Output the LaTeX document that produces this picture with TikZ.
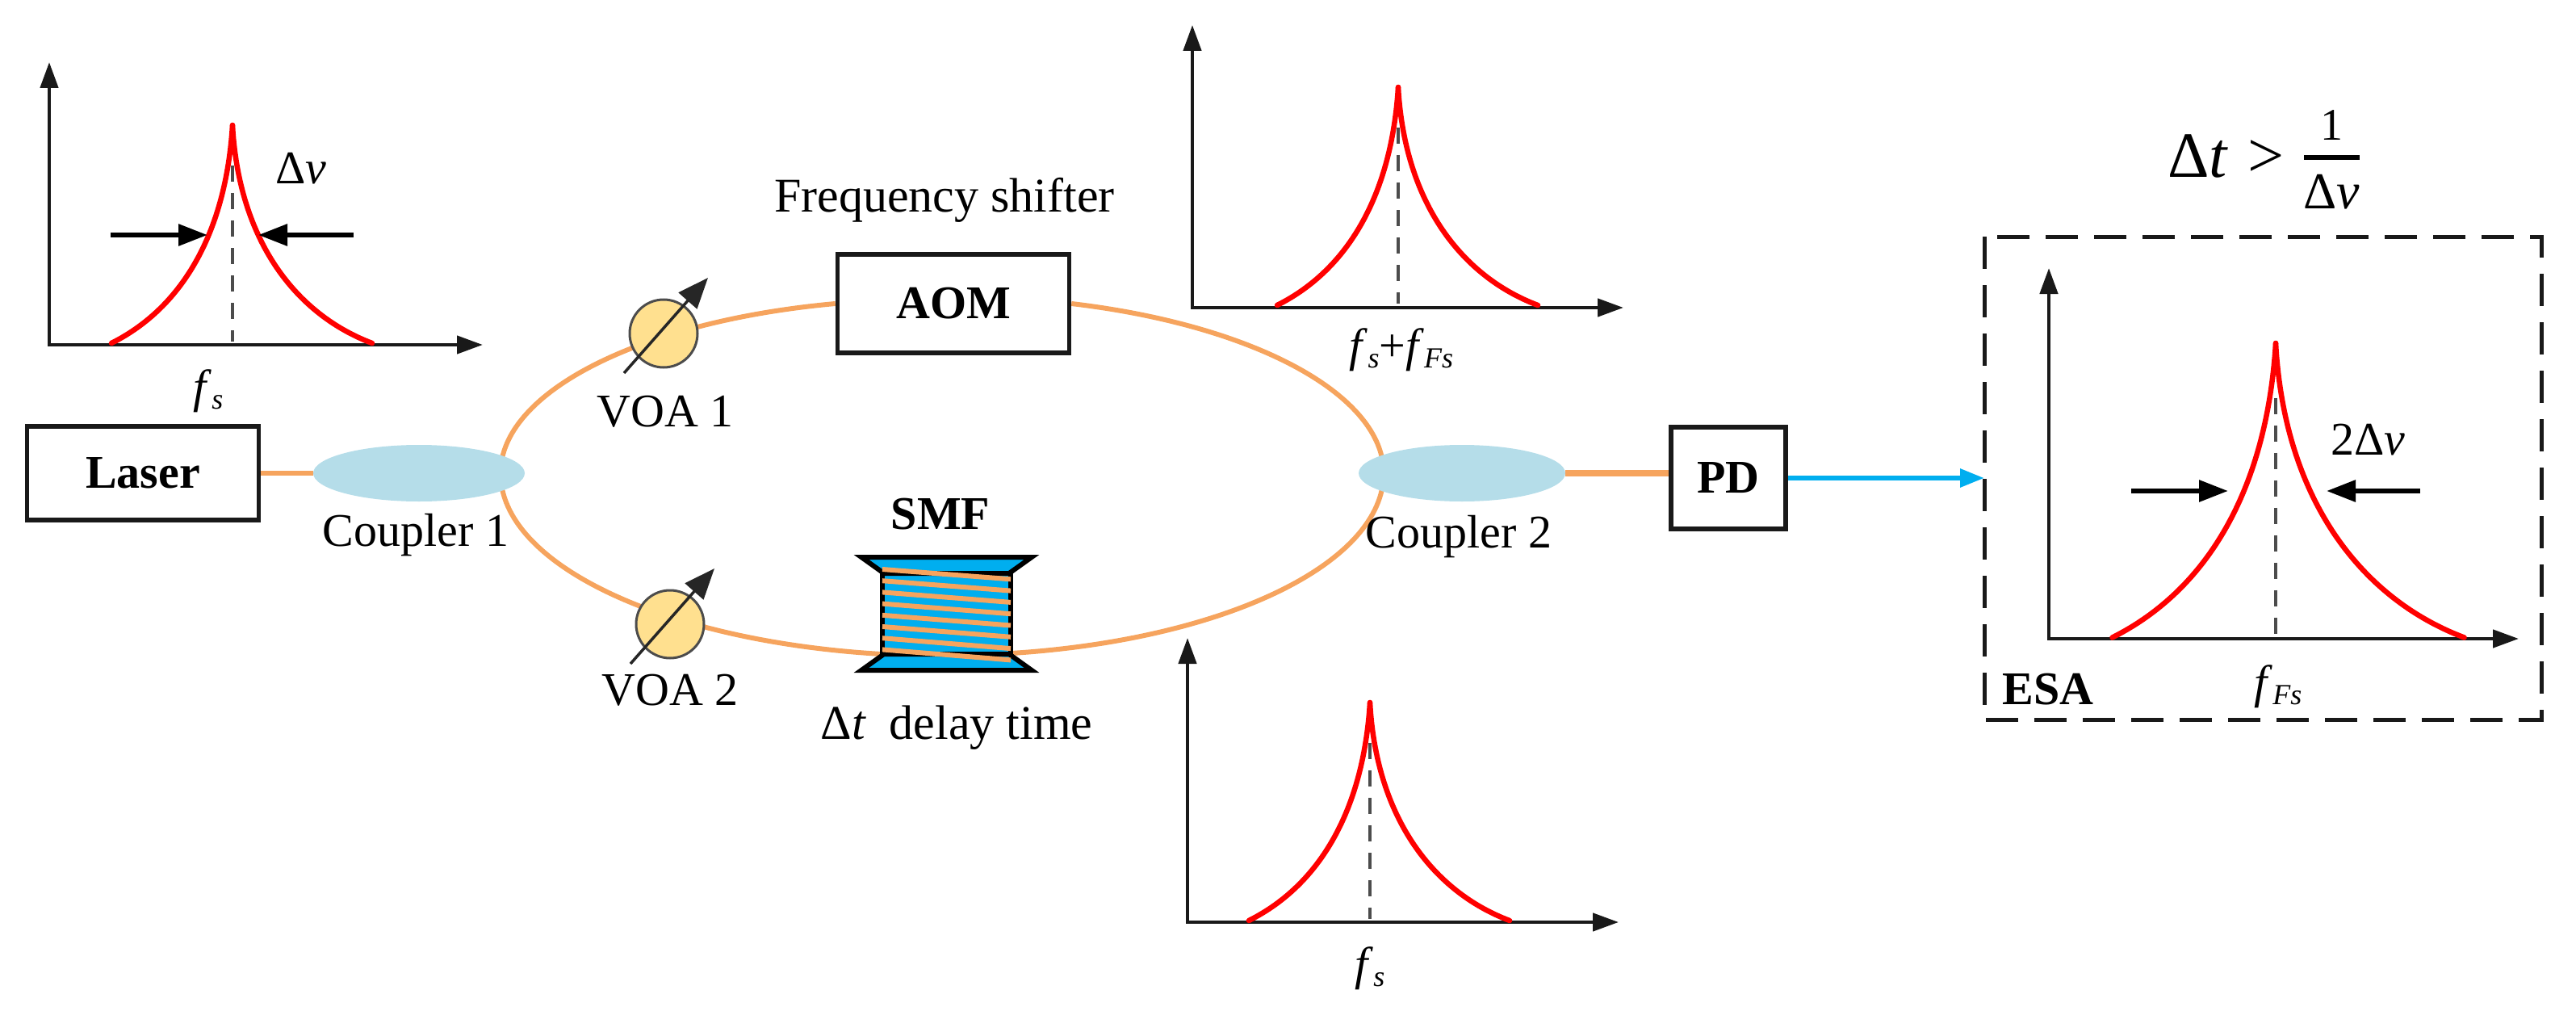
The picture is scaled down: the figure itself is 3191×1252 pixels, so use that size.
\documentclass[tikz,border=0pt]{standalone}
\usepackage{amsmath}
\usepackage{fontspec}
\usepackage{graphicx}
\setmainfont{Liberation Serif}
\usetikzlibrary{arrows.meta,backgrounds,shapes.geometric}
\definecolor{fiber}{HTML}{F6A45E}
\definecolor{spoolblue}{HTML}{00AEEF}
\definecolor{cplr}{HTML}{B5DDE9}
\definecolor{voafill}{HTML}{FFE08F}
\newcommand{\fs}[1]{\textit{f}\raisebox{-8pt}{\fontsize{36}{36}\selectfont\textit{#1}}}
\tikzset{
  x=1pt,y=-1pt,
  txt/.style={font=\fontsize{58}{62}\selectfont,inner sep=0pt,text=black},
  widetxt/.style={txt,font=\fontsize{60}{64}\selectfont},
  boldtxt/.style={txt,font=\fontsize{58}{62}\selectfont\bfseries},
  box/.style={draw=black!90,line width=5.5pt,fill=white,font=\fontsize{58}{62}\selectfont\bfseries,inner sep=0pt},
  coupler/.style={ellipse,fill=cplr,inner sep=0pt,minimum width=262pt,minimum height=70pt},
  voa/.style={circle,draw=black!70,line width=3pt,fill=voafill,minimum size=84pt,inner sep=0pt},
  ring/.style={draw=fiber,line width=6pt},
  axes/.style={draw=black!90,line width=4.5pt,{Triangle[length=32pt,width=22pt]}-{Triangle[length=32pt,width=22pt]}},
  tune/.style={draw=black!85,line width=3.5pt,-{Triangle[length=38pt,width=30pt]}},
  meas/.style={draw=black,line width=6pt,-{Triangle[length=36pt,width=26pt]}},
  center line/.style={draw=black!70,line width=4.5pt,dash pattern=on 20pt off 14pt},
  linecurve/.style={draw=red,line width=6.5pt,line cap=round,line join=round},
  lorentz/.pic={
    \draw[center line] (0,50) -- (0,268);
    \draw[linecurve] (-150,270) .. controls (-60,225) and (-8,130) .. (0,0);
    \draw[linecurve] (173,270) .. controls (80,235) and (8,145) .. (0,0);
  }
}
\begin{document}
\begin{tikzpicture}
\useasboundingbox (0,0) rectangle (3191,1252);
% named ring points
\coordinate (ringL) at (620,586);
\coordinate (ringR) at (1714,586);
% devices
\node[box,minimum width=287pt,minimum height=116pt] (laser) at (177,586) {Laser};
\node[coupler] (c1) at (519,586) {};
\node[coupler,minimum width=256pt] (c2) at (1811,586) {};
\node[box,minimum width=287pt,minimum height=122pt] (aom) at (1181,376) {AOM};
\node[box,minimum width=142pt,minimum height=126pt] (pd) at (2141,592) {PD};
\node[voa] (voa1) at (822,413) {};
\node[voa] (voa2) at (830,773) {};
\coordinate (smfL) at (1092,810);
\coordinate (smfR) at (1253,809);
\coordinate (esaL) at (2458,592);
% fibres behind the devices
\begin{scope}[on background layer]
\draw[ring] (ringL) .. controls (620,486) and (792,398) .. (aom.west);
\draw[ring] (aom.east) .. controls (1556,403) and (1714,490) .. (ringR);
\draw[ring] (ringL) .. controls (620,698) and (820,794) .. (smfL);
\draw[ring] (smfR) .. controls (1519,792) and (1714,697) .. (ringR);
\draw[ring] (laser.east) -- (c1.west);
\draw[ring,line width=8pt] (c2.east) -- (pd.west |- c2.east);
\end{scope}
\draw[draw=spoolblue,line width=6pt,-{Triangle[length=30pt,width=22pt]}] (pd.east) -- (esaL);
% VOA arrows
\draw[tune] (773,462) -- (877,344);
\draw[tune] (781,822) -- (885,704);
% spool
\begin{scope}[draw=black,line width=6pt,fill=spoolblue,line join=miter]
\filldraw (1093,710) rectangle (1252,810);
\filldraw (1067,690) -- (1278,690) -- (1250,710) -- (1095,710) -- cycle;
\filldraw (1095,810) -- (1250,810) -- (1278,830) -- (1067,830) -- cycle;
\end{scope}
\foreach \i in {0,...,7}{
  \draw[fiber,line width=6pt] (1093,705+14.2*\i) -- (1252,717.3+14.3*\i);
}
% spectra
\draw[axes] (61,77) -- (61,427) -- (598,427);
\pic at (288,155) {lorentz};
\draw[meas] (137,291) -- (257,291);
\draw[meas] (438,291) -- (320,291);
\draw[axes] (1477,31) -- (1477,381) -- (2011,381);
\pic at (1732,108) {lorentz};
\draw[axes] (1471,790) -- (1471,1142) -- (2005,1142);
\pic at (1697,870) {lorentz};
% ESA
\draw[draw=black!90,line width=5pt,dash pattern=on 40pt off 20pt] (2458,293) rectangle (3148,891);
\draw[axes] (2538,332) -- (2538,791) -- (3120,791);
\pic[scale=1.35] at (2819,425) {lorentz};
\draw[meas] (2640,608) -- (2760,608);
\draw[meas] (2998,608) -- (2882,608);
% labels
\node[txt] (tdv) at (373,209) {Δ\textit{v}};
\node[txt] (tfs1) at (258,484) {\fs{s}};
\node[widetxt] (tfreq) at (1170,248) {Frequency shifter};
\node[txt] (tfsum) at (1736,433) {\fs{s}+\fs{Fs}};
\node[txt] (tvoa1) at (824,510) {VOA 1};
\node[txt] (tvoa2) at (830,855) {VOA 2};
\node[txt] (tc1) at (515,663) {Coupler 1};
\node[txt] (tc2) at (1807,665) {Coupler 2};
\node[boldtxt] (tsmf) at (1165,637) {SMF};
\node[widetxt] (tdt) at (1185,901) {Δ\textit{t}\hspace{14pt} delay time};
\node[txt] (tfs2) at (1697,1199) {\fs{s}};
\node[txt] (t2dv) at (2933,545) {2Δ\textit{v}};
\node[boldtxt] (tesa) at (2537,854) {ESA};
\node[txt] (tffs) at (2822,850) {\fs{Fs}};
\node[inner sep=0pt,text=black,anchor=base west,font=\fontsize{80}{84}\selectfont] (tform) at (2685,220) {Δ\textit{t}\hspace{24pt}>\hspace{24pt}\raisebox{19pt}{$\displaystyle\nulldelimiterspace=0pt\genfrac{}{}{6pt}{0}{\hbox{\fontsize{56}{56}\selectfont 1}}{\hbox{\fontsize{64}{64}\selectfont Δ\textit{v}}}$}};
\end{tikzpicture}
\end{document}
